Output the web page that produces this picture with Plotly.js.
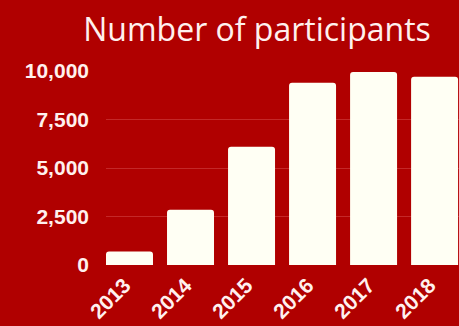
<!DOCTYPE html>
<html>
<head>
<meta charset="utf-8">
<script src="https://cdn.plot.ly/plotly-3.0.1.min.js"></script>
<style>html,body{margin:0;padding:0;background:#b00000;}#chart{width:459px;height:326px;}</style>
</head>
<body>
<div id="chart"></div>
<script>
const years = ["2013", "2014", "2015", "2016", "2017", "2018"];
const participants = [700, 2850, 6100, 9400, 9950, 9700];
const yTickValues = [0, 2500, 5000, 7500, 10000];
const yTickLabels = ["0", "2,500", "5,000", "7,500", "10,000"];
const chartTitle = "Number of participants";

const bg = "#b00000";
const txt = "#fff0ee";

Plotly.newPlot("chart", [{
  type: "bar",
  x: years,
  y: participants,
  marker: {color: "#fffff4", cornerradius: 3, line: {width: 0}},
  hoverinfo: "skip"
}], {
  width: 459, height: 326,
  paper_bgcolor: bg, plot_bgcolor: bg,
  margin: {l: 106, r: 0, t: 71, b: 61},
  bargap: 0.23,
  showlegend: false,
  title: {
    text: chartTitle,
    font: {family: "Open Sans, sans-serif", size: 32, color: txt},
    x: 0.56, xref: "container", xanchor: "center",
    y: 0.91, yref: "container", yanchor: "middle"
  },
  xaxis: {
    type: "category",
    range: [-0.385, 5.4],
    tickangle: -45,
    tickfont: {family: "Liberation Sans, Arial, sans-serif", size: 21, color: txt, weight: "bold"},
    showgrid: false, zeroline: false, showline: false, ticks: "",
    ticklabelstandoff: 3,
    ticklabelshift: -5,
    fixedrange: true
  },
  yaxis: {
    range: [0, 10000],
    tickvals: yTickValues,
    ticktext: yTickLabels,
    tickfont: {family: "Liberation Sans, Arial, sans-serif", size: 21, color: txt, weight: "bold"},
    showgrid: true, gridcolor: "#c42828", gridwidth: 1,
    zeroline: false, showline: false, ticks: "",
    ticklabelstandoff: 16,
    fixedrange: true
  }
}, {displayModeBar: false, staticPlot: true});
</script>
</body>
</html>
